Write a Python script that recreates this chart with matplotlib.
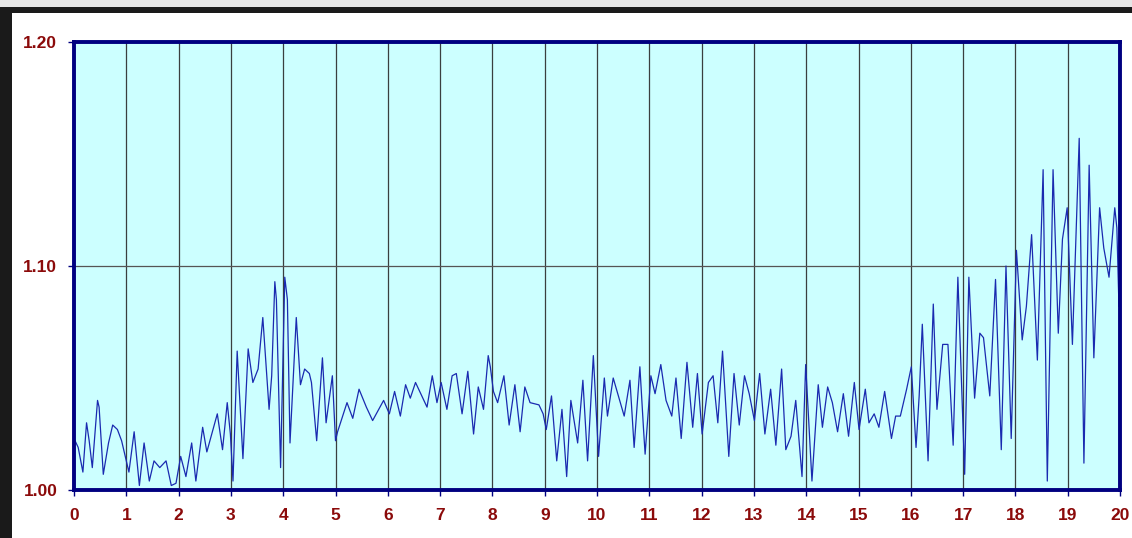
import matplotlib
matplotlib.use("Agg")
import matplotlib.pyplot as plt
from matplotlib.patches import Rectangle

# traced series (x position, value)
X = [0.02, 0.08, 0.17, 0.24, 0.29, 0.35, 0.45, 0.48, 0.56, 0.66, 0.74, 0.83, 0.91,
     1.01, 1.05, 1.15, 1.25, 1.34, 1.44, 1.53, 1.64, 1.76, 1.86, 1.95,
     2.04, 2.14, 2.25, 2.33, 2.46, 2.54, 2.74, 2.84, 2.93, 2.99,
     3.04, 3.12, 3.17, 3.23, 3.33, 3.42, 3.52, 3.61, 3.73, 3.78, 3.84, 3.87, 3.95,
     4.03, 4.08, 4.13, 4.25, 4.33, 4.41, 4.50, 4.54, 4.64, 4.75, 4.82, 4.94,
     5.00, 5.04, 5.22, 5.33, 5.45, 5.59, 5.71, 5.92,
     6.03, 6.13, 6.24, 6.34, 6.43, 6.53, 6.75, 6.85, 6.94,
     7.02, 7.13, 7.23, 7.31, 7.42, 7.53, 7.64, 7.73, 7.83, 7.92, 7.96,
     8.02, 8.10, 8.22, 8.32, 8.43, 8.53, 8.62, 8.72, 8.89, 8.97,
     9.03, 9.13, 9.23, 9.33, 9.42, 9.50, 9.63, 9.73, 9.82, 9.93,
     10.03, 10.14, 10.20, 10.31, 10.52, 10.63, 10.71, 10.82, 10.89, 10.92,
     11.03, 11.11, 11.22, 11.32, 11.43, 11.51, 11.61, 11.72, 11.83, 11.92,
     12.01, 12.13, 12.22, 12.31, 12.40, 12.52, 12.62, 12.72, 12.82, 12.91,
     13.01, 13.11, 13.21, 13.32, 13.42, 13.53, 13.61, 13.71, 13.80, 13.92, 13.99,
     14.11, 14.23, 14.31, 14.41, 14.50, 14.60, 14.71, 14.81, 14.92,
     15.01, 15.13, 15.20, 15.30, 15.39, 15.50, 15.63, 15.71, 15.80, 15.92,
     16.01, 16.10, 16.16, 16.22, 16.33, 16.43, 16.50, 16.61, 16.71, 16.81, 16.90,
     17.03, 17.11, 17.22, 17.32, 17.39, 17.51, 17.62, 17.73, 17.82, 17.92,
     18.02, 18.13, 18.21, 18.31, 18.42, 18.53, 18.61, 18.72, 18.82, 18.90, 18.99,
     19.09, 19.22, 19.31, 19.41, 19.50, 19.61, 19.69, 19.79, 19.90, 19.94, 19.98]

Y = [1.022, 1.019, 1.008, 1.030, 1.022, 1.010, 1.040, 1.037, 1.007, 1.021, 1.029, 1.027, 1.022,
     1.012, 1.008, 1.026, 1.002, 1.021, 1.004, 1.013, 1.010, 1.013, 1.002, 1.003,
     1.015, 1.006, 1.021, 1.004, 1.028, 1.017, 1.034, 1.018, 1.039, 1.025,
     1.004, 1.062, 1.040, 1.014, 1.063, 1.048, 1.054, 1.077, 1.036, 1.051, 1.093, 1.085, 1.010,
     1.095, 1.085, 1.021, 1.077, 1.047, 1.054, 1.052, 1.048, 1.022, 1.059, 1.030, 1.051,
     1.022, 1.026, 1.039, 1.032, 1.045, 1.037, 1.031, 1.040,
     1.034, 1.044, 1.033, 1.047, 1.041, 1.048, 1.037, 1.051, 1.039,
     1.048, 1.036, 1.051, 1.052, 1.034, 1.053, 1.025, 1.046, 1.036, 1.060, 1.055,
     1.044, 1.039, 1.051, 1.029, 1.047, 1.026, 1.046, 1.039, 1.038, 1.034,
     1.027, 1.042, 1.013, 1.036, 1.006, 1.040, 1.021, 1.049, 1.013, 1.060,
     1.015, 1.050, 1.033, 1.050, 1.033, 1.049, 1.019, 1.055, 1.027, 1.016,
     1.051, 1.043, 1.056, 1.040, 1.033, 1.050, 1.023, 1.057, 1.028, 1.052,
     1.025, 1.048, 1.051, 1.030, 1.062, 1.015, 1.052, 1.029, 1.051, 1.043,
     1.031, 1.052, 1.025, 1.045, 1.020, 1.054, 1.018, 1.024, 1.040, 1.006, 1.056,
     1.004, 1.047, 1.028, 1.046, 1.039, 1.026, 1.043, 1.024, 1.048,
     1.027, 1.045, 1.030, 1.034, 1.028, 1.044, 1.023, 1.033, 1.033, 1.045,
     1.055, 1.019, 1.042, 1.074, 1.013, 1.083, 1.036, 1.065, 1.065, 1.020, 1.095,
     1.007, 1.095, 1.041, 1.070, 1.068, 1.042, 1.094, 1.018, 1.100, 1.023,
     1.107, 1.067, 1.082, 1.114, 1.058, 1.143, 1.004, 1.143, 1.070, 1.112, 1.126,
     1.065, 1.157, 1.012, 1.145, 1.059, 1.126, 1.108, 1.095, 1.126, 1.117, 1.082]

X_TICKS = list(range(0, 21))
Y_TICKS = [1.00, 1.10, 1.20]
Y_LABELS = ["1.00", "1.10", "1.20"]

NAVY = "#000080"
LABEL_RED = "#8B0A0A"
PLOT_BG = "#CCFFFF"
LINE_BLUE = "#1A2AB0"

plt.rcParams["font.family"] = ["Liberation Sans", "DejaVu Sans"]

fig = plt.figure(figsize=(11.32, 5.38), dpi=100, facecolor="white")

# screenshot-style outer frame: grey strip on top, dark band top and left
fig.patches.append(Rectangle((0, 0.987), 1, 0.013, transform=fig.transFigure,
                             facecolor="#E6E6E6", edgecolor="none", zorder=0))
fig.patches.append(Rectangle((0, 0.976), 1, 0.011, transform=fig.transFigure,
                             facecolor="#1A1A1A", edgecolor="none", zorder=0))
fig.patches.append(Rectangle((0, 0), 0.0106, 0.987, transform=fig.transFigure,
                             facecolor="#1A1A1A", edgecolor="none", zorder=0))

ax = fig.add_axes([74 / 1132, 48 / 538, 1046 / 1132, 448 / 538])
ax.set_facecolor(PLOT_BG)

for xv in X_TICKS[1:-1]:
    ax.axvline(xv, color="#3A3F3F", linewidth=0.9, zorder=1)
ax.axhline(1.10, color="#555555", linewidth=0.9, zorder=1)

ax.plot(X, Y, color=LINE_BLUE, linewidth=0.9, zorder=2)

ax.set_xlim(0, 20)
ax.set_ylim(1.00, 1.20)
ax.set_xticks(X_TICKS)
ax.set_yticks(Y_TICKS)
ax.set_yticklabels(Y_LABELS)

for sp in ax.spines.values():
    sp.set_color(NAVY)
    sp.set_linewidth(2.8)

ax.tick_params(axis="x", direction="out", length=4, width=1, color=NAVY,
               pad=9, labelsize=12.5, labelcolor=LABEL_RED)
ax.tick_params(axis="y", direction="out", length=4, width=1, color=NAVY,
               pad=8, labelsize=12.5, labelcolor=LABEL_RED)
for lab in ax.get_xticklabels() + ax.get_yticklabels():
    lab.set_fontweight("bold")

fig.savefig("out.png", dpi=100, facecolor="white")
